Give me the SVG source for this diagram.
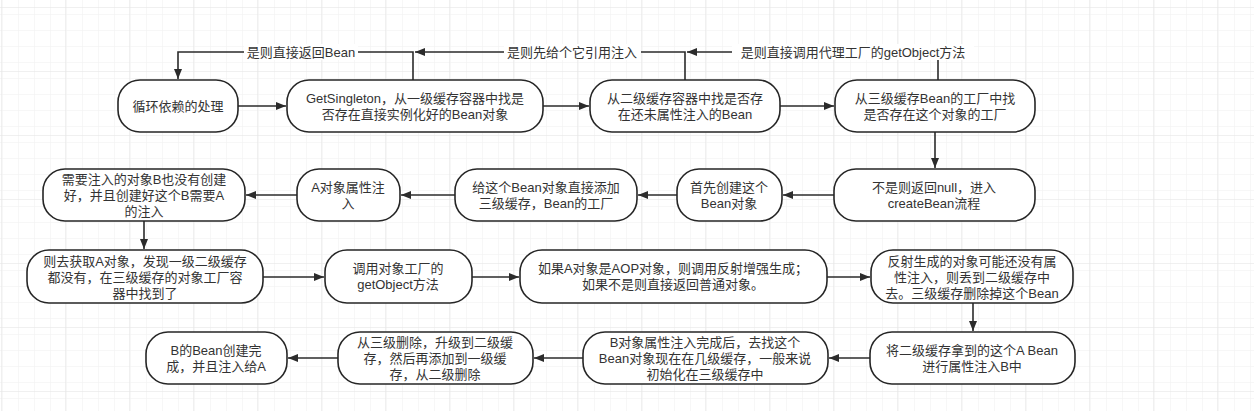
<svg xmlns="http://www.w3.org/2000/svg" width="1254" height="411" viewBox="0 0 1254 411">
<defs>
<pattern id="minor" width="16" height="16" patternUnits="userSpaceOnUse" x="1" y="7">
<path d="M16,0 H0 V16" fill="none" stroke="#f0f0f0" stroke-width="1"/>
</pattern>
<pattern id="major" width="64" height="64" patternUnits="userSpaceOnUse" x="1" y="7">
<rect width="64" height="64" fill="url(#minor)"/>
<path d="M64,0 H0 V64" fill="none" stroke="#e2e2e2" stroke-width="1"/>
</pattern>
<marker id="ah" viewBox="0 0 10 8" refX="10" refY="4" markerWidth="10" markerHeight="8" markerUnits="userSpaceOnUse" orient="auto">
<path d="M0,0 L10,4 L0,8 z" fill="#2b2b2b"/>
</marker>
</defs>
<style>
.n rect{fill:#fff;stroke:#262626;stroke-width:1.6}
text{font-family:"Liberation Sans","Noto Sans CJK SC",sans-serif;font-size:13px;fill:#333;text-anchor:middle}
.c path{fill:none;stroke:#2b2b2b;stroke-width:1.6}
.lb{fill:#fff}
</style>
<rect width="1254" height="411" fill="#fff"/>
<rect width="1254" height="411" fill="url(#major)"/>

<g class="c" id="connectors">
<path d="M238,106 H286" marker-end="url(#ah)"/>
<path d="M543,106 H589" marker-end="url(#ah)"/>
<path d="M780,106 H834" marker-end="url(#ah)"/>
<path d="M935,132 V168" marker-end="url(#ah)"/>
<path d="M834,195 H783" marker-end="url(#ah)"/>
<path d="M677,195 H638" marker-end="url(#ah)"/>
<path d="M455,195 H401" marker-end="url(#ah)"/>
<path d="M297,195 H246" marker-end="url(#ah)"/>
<path d="M144,221 V249" marker-end="url(#ah)"/>
<path d="M263,277 H324" marker-end="url(#ah)"/>
<path d="M472,277 H519" marker-end="url(#ah)"/>
<path d="M827,277 H870" marker-end="url(#ah)"/>
<path d="M973,303 V331" marker-end="url(#ah)"/>
<path d="M870,358 H829" marker-end="url(#ah)"/>
<path d="M583,358 H534" marker-end="url(#ah)"/>
<path d="M338,358 H288" marker-end="url(#ah)"/>
<path d="M413,80 V52 H178 V79" marker-end="url(#ah)"/>
<path d="M685,80 V52 H415" marker-end="url(#ah)"/>
<path d="M938,80 V52 H687" marker-end="url(#ah)"/>
<rect class="lb" x="244" y="44" width="114" height="16"/>
<text x="301" y="56.5">是则直接返回Bean</text>
<rect class="lb" x="504" y="44" width="137" height="16"/>
<text x="572" y="56.5">是则先给个它引用注入</text>
<rect class="lb" x="732" y="44" width="242" height="16"/>
<text x="853" y="56.5">是则直接调用代理工厂的getObject方法</text>
</g>

<g class="n" id="n1"><rect x="118" y="80" width="120" height="52" rx="22"/><text x="178" y="110.5">循环依赖的处理</text></g>
<g class="n" id="n2"><rect x="287" y="80" width="256" height="52" rx="22"/><text x="415" y="102.5">GetSingleton，从一级缓存容器中找是</text><text x="415" y="118.5">否存在直接实例化好的Bean对象</text></g>
<g class="n" id="n3"><rect x="590" y="80" width="190" height="52" rx="22"/><text x="685" y="102.5">从二级缓存容器中找是否存</text><text x="685" y="118.5">在还未属性注入的Bean</text></g>
<g class="n" id="n4"><rect x="835" y="80" width="200" height="52" rx="22"/><text x="935" y="102.5">从三级缓存Bean的工厂中找</text><text x="935" y="118.5">是否存在这个对象的工厂</text></g>

<g class="n" id="n5"><rect x="834" y="169" width="201" height="52" rx="22"/><text x="934" y="191.5">不是则返回null，进入</text><text x="934" y="207.5">createBean流程</text></g>
<g class="n" id="n6"><rect x="677" y="169" width="105" height="52" rx="22"/><text x="729" y="191.5">首先创建这个</text><text x="729" y="207.5">Bean对象</text></g>
<g class="n" id="n7"><rect x="455" y="169" width="182" height="52" rx="22"/><text x="546" y="191.5">给这个Bean对象直接添加</text><text x="546" y="207.5">三级缓存，Bean的工厂</text></g>
<g class="n" id="n8"><rect x="297" y="169" width="103" height="52" rx="22"/><text x="348" y="191.5">A对象属性注</text><text x="348" y="207.5">入</text></g>
<g class="n" id="n9"><rect x="43" y="169" width="202" height="52" rx="22"/><text x="144" y="183.5">需要注入的对象B也没有创建</text><text x="144" y="199.5">好，并且创建好这个B需要A</text><text x="144" y="215.5">的注入</text></g>

<g class="n" id="n10"><rect x="27" y="250" width="236" height="53" rx="22"/><text x="145" y="265.5">则去获取A对象，发现一级二级缓存</text><text x="145" y="281.5">都没有，在三级缓存的对象工厂容</text><text x="145" y="297.5">器中找到了</text></g>
<g class="n" id="n11"><rect x="325" y="250" width="147" height="53" rx="22"/><text x="398" y="273">调用对象工厂的</text><text x="398" y="289">getObject方法</text></g>
<g class="n" id="n12"><rect x="520" y="250" width="307" height="53" rx="22"/><text x="673" y="273">如果A对象是AOP对象，则调用反射增强生成；</text><text x="673" y="289">如果不是则直接返回普通对象。</text></g>
<g class="n" id="n13"><rect x="871" y="250" width="202" height="53" rx="22"/><text x="972" y="265.5">反射生成的对象可能还没有属</text><text x="972" y="281.5">性注入，则丢到二级缓存中</text><text x="972" y="297.5">去。三级缓存删除掉这个Bean</text></g>

<g class="n" id="n14"><rect x="870" y="332" width="205" height="52" rx="22"/><text x="972" y="354.5">将二级缓存拿到的这个A Bean</text><text x="972" y="370.5">进行属性注入B中</text></g>
<g class="n" id="n15"><rect x="583" y="332" width="245" height="52" rx="22"/><text x="705" y="346.5">B对象属性注入完成后，去找这个</text><text x="705" y="362.5">Bean对象现在在几级缓存，一般来说</text><text x="705" y="378.5">初始化在三级缓存中</text></g>
<g class="n" id="n16"><rect x="338" y="332" width="195" height="52" rx="22"/><text x="435" y="346.5">从三级删除，升级到二级缓</text><text x="435" y="362.5">存，然后再添加到一级缓</text><text x="435" y="378.5">存，从二级删除</text></g>
<g class="n" id="n17"><rect x="146" y="332" width="141" height="52" rx="22"/><text x="216" y="354.5">B的Bean创建完</text><text x="216" y="370.5">成，并且注入给A</text></g>
</svg>
